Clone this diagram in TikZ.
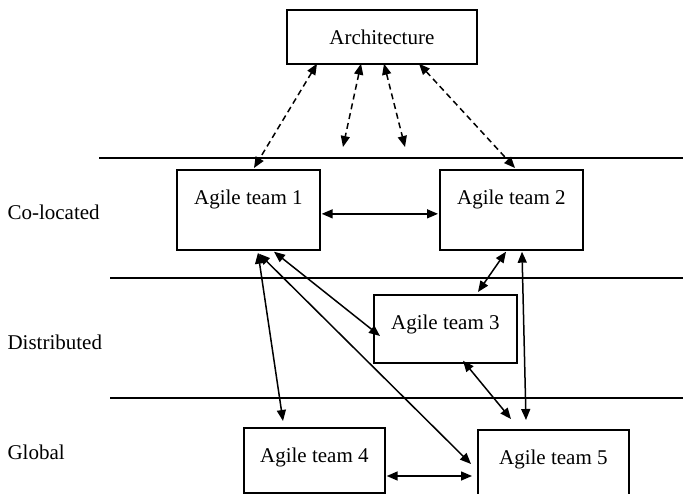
\documentclass[tikz,border=0pt]{standalone}
\usepackage{fontspec}
\setmainfont{Liberation Serif}
\usetikzlibrary{arrows.meta,calc}

\tikzset{
  team/.style={draw, line width=1.7pt, inner sep=0pt, minimum width=143pt,
    text height=35pt, anchor=north west},
  link/.style={{Triangle[length=11pt,width=9pt]}-{Triangle[length=11pt,width=9pt]}, line width=1.5pt},
  archlink/.style={link, dash pattern=on 6pt off 4pt},
  level/.style={line width=1.5pt}
}

\begin{document}
\begin{tikzpicture} [x=1pt, y=-1pt, font=\fontsize{21}{25}\selectfont]

\useasboundingbox (0,0) rectangle (683,494);

% layers
\draw [level] (99,158) -- (683,158);
\draw [level] (110,278) -- (683,278);
\draw [level] (110,398) -- (683,398);

\node [anchor=west] (colo) at (4,212) {Co-located};
\node [anchor=west] (dist) at (4,342) {Distributed};
\node [anchor=west] (glob) at (4,452) {Global};

% boxes
\node [draw, line width=1.7pt, minimum width=190pt, minimum height=54pt, anchor=north west] (arch) at (286,9) {Architecture};
\node [team, text depth=45pt] (t1) at (176,169) {Agile team 1};
\node [team, text depth=45pt] (t2) at (439,169) {Agile team 2};
\node [team, text depth=33pt] (t3) at (373,294) {Agile team 3};
\node [team, text depth=30pt, minimum width=141pt] (t4) at (243,427) {Agile team 4};
\node [team, text depth=45pt, minimum width=151pt] (t5) at (477,429) {Agile team 5};

\coordinate (free1) at (343,147);
\coordinate (free2) at (405,147);

% architecture links
\draw [archlink] ($(arch.south west)+(31,-1)$) -- ($(t1.north west)+(78,-1)$);
\draw [archlink] ($(arch.south west)+(75,-1)$) -- (free1);
\draw [archlink] ($(arch.south west)+(98,-1)$) -- (free2);
\draw [archlink] ($(arch.south west)+(133,-1)$) -- ($(t2.north west)+(76,-1)$);

% team links
\draw [link] ($(t1.east)+(1,4)$) -- ($(t2.west)+(-1,4)$);
\draw [link] ($(t1.south west)+(82,2)$) -- ($(t4.north west)+(40,-6)$);
\draw [link] ($(t1.south west)+(83,3)$) -- ($(t5.north west)+(-6,35)$);
\draw [link] ($(t1.south west)+(98,1)$) -- ($(t3.north west)+(7,42)$);
\draw [link] ($(t2.south west)+(67,1)$) -- ($(t3.north west)+(105,-2)$);
\draw [link] ($(t2.south west)+(83,1)$) -- ($(t5.north west)+(49,-9)$);
\draw [link] ($(t3.south west)+(90,-3)$) -- ($(t5.north west)+(34,-10)$);
\draw [link] ($(t4.north east)+(1,49)$) -- ($(t5.north west)+(-5,47)$);

\end{tikzpicture}
\end{document}
